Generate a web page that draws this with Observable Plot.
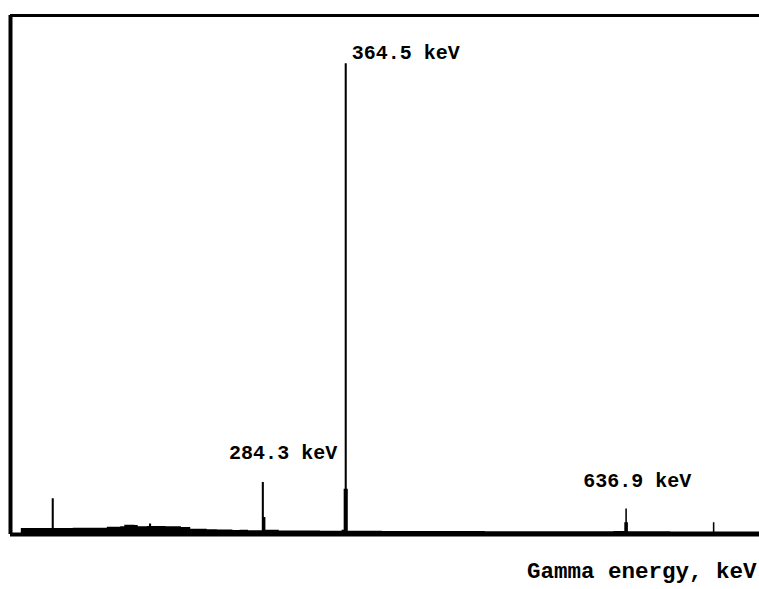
<!DOCTYPE html>
<html>
<head>
<meta charset="utf-8">
<script src="https://cdn.jsdelivr.net/npm/d3@7"></script>
<script src="https://cdn.jsdelivr.net/npm/@observablehq/plot@0.6"></script>
<style>
  html, body { margin: 0; padding: 0; background: #fff; }
  #chart svg { display: block; }
</style>
</head>
<body>
<div id="chart"></div>
<script>
// Spectrum: gamma energy (keV) and counts (step-wise)
const energies = [39, 49.5, 60, 79, 79.5, 81.5, 100, 126, 133, 146, 150, 160, 163, 172, 174, 176, 190, 205, 214, 230, 240, 255, 262, 270, 283.5, 285.5, 287, 300, 340, 361, 363, 364, 366, 367, 400, 500, 600, 625, 635.5, 636.5, 638, 639, 680, 721.5, 723, 766.3];
const counts   = [0, 1250, 1270, 1270, 7600, 1280, 1300, 1350, 1550, 1650, 1950, 1900, 1650, 1700, 2250, 1700, 1650, 1500, 1100, 1000, 950, 850, 900, 800, 11000, 3600, 900, 750, 700, 900, 9600, 99800, 9600, 700, 650, 600, 600, 650, 2500, 5400, 2500, 600, 550, 2500, 550, 550];

// Labelled peaks
const peakEnergies = [364.5, 284.3, 636.9];
const peakCounts = [99800, 11000, 5400];
const peakLabels = ["364.5 keV", "284.3 keV", "636.9 keV"];

const axisLabel = "Gamma energy, keV";

const spectrum = energies.map((e, i) => ({energy: e, counts: counts[i]}));
const peaks = peakEnergies.map((e, i) => ({energy: e, counts: peakCounts[i], label: peakLabels[i]}));

const font = "'Liberation Mono', monospace";

const chart = Plot.plot({
  width: 759,
  height: 589,
  marginLeft: 10,
  marginRight: 0,
  marginTop: 15,
  marginBottom: 55,
  x: {domain: [39, 766.3], axis: null},
  y: {domain: [0, 110000], axis: null},
  style: {fontFamily: font, background: "#fff"},
  marks: [
    Plot.areaY(spectrum, {x: "energy", y: "counts", curve: "step-after", fill: "#000"}),
    Plot.ruleY([0], {stroke: "#000", strokeWidth: 4}),
    Plot.ruleY([110000], {stroke: "#000", strokeWidth: 3}),
    Plot.ruleX([39], {stroke: "#000", strokeWidth: 4}),
    Plot.text(peaks.filter(d => d.label === "364.5 keV"), {x: "energy", y: "counts", text: "label", textAnchor: "start", lineAnchor: "bottom", dx: 6, dy: -5, fontSize: 20, fontWeight: "bold", fill: "#000"}),
    Plot.text(peaks.filter(d => d.label === "284.3 keV"), {x: "energy", y: "counts", text: "label", textAnchor: "start", lineAnchor: "bottom", dx: -34, dy: -24, fontSize: 20, fontWeight: "bold", fill: "#000"}),
    Plot.text(peaks.filter(d => d.label === "636.9 keV"), {x: "energy", y: "counts", text: "label", textAnchor: "start", lineAnchor: "bottom", dx: -43, dy: -22, fontSize: 20, fontWeight: "bold", fill: "#000"}),
    Plot.text([axisLabel], {frameAnchor: "bottom-right", textAnchor: "end", lineAnchor: "bottom", dx: -3, dy: 43, fontSize: 22.5, fontWeight: "bold", fill: "#000"})
  ]
});
document.getElementById("chart").appendChild(chart);
</script>
</body>
</html>
